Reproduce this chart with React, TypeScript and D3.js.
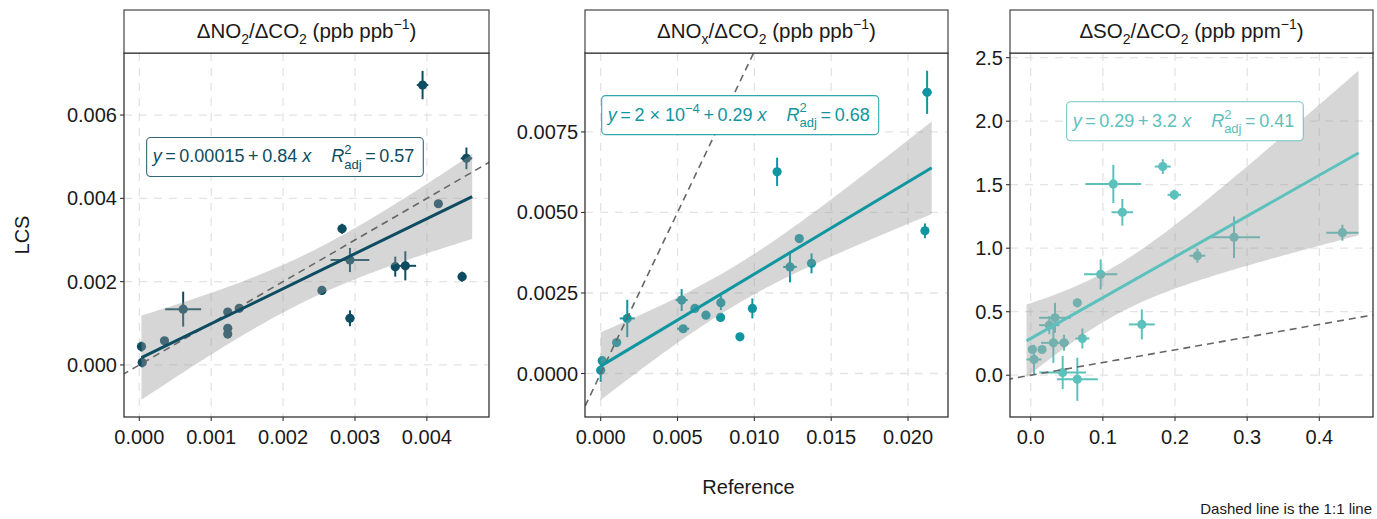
import React, { useEffect, useRef } from "react";
import * as d3 from "d3";

// ---------------- data ----------------
// Panel 1: ΔNO2/ΔCO2
const no2Ref = [0.00394, 0.00455, 0.00416, 0.00282, 0.00293, 0.00356, 0.0037, 0.00449, 0.00254, 0.00293, 0.00061, 0.00123, 0.00139, 0.00123, 0.00123, 0.00035, 0.00003, 0.00004];
const no2RefErr = [0.00008, 0.00008, 0, 0.00006, 0.00027, 0.00006, 0.00015, 0.00006, 0, 0.00006, 0.00025, 0, 0, 0, 0, 0, 0, 0];
const no2Lcs = [0.00672, 0.00496, 0.00387, 0.00327, 0.00252, 0.00236, 0.00238, 0.00212, 0.00179, 0.00112, 0.00134, 0.00127, 0.00136, 0.00088, 0.00074, 0.00058, 0.00044, 0.00006];
const no2LcsErr = [0.00034, 0.00026, 0, 0.00012, 0.00029, 0.00024, 0.00035, 0.00012, 0, 0.00019, 0.00042, 0, 0, 0, 0, 0, 0.00012, 0.00012];

// Panel 2: ΔNOx/ΔCO2
const noxRef = [0.02124, 0.01148, 0.0211, 0.01292, 0.01232, 0.01372, 0.00527, 0.00613, 0.00685, 0.00782, 0.0078, 0.00987, 0.00537, 0.00906, 0.00173, 0.00104, 0.0, 0.0001];
const noxRefErr = [0.0003, 0, 0, 0, 0.00044, 0, 0.00039, 0, 0, 0, 0, 0, 0.00039, 0, 0.00049, 0, 0, 0];
const noxLcs = [0.00873, 0.00626, 0.00443, 0.00419, 0.00331, 0.00342, 0.00228, 0.00202, 0.00181, 0.0022, 0.00174, 0.00202, 0.00139, 0.00114, 0.00171, 0.00096, 0.0001, 0.0004];
const noxLcsErr = [0.00067, 0.00044, 0.00023, 0, 0.00048, 0.00031, 0.00034, 0, 0, 0.00023, 0, 0.00031, 0.0001, 0, 0.00058, 0, 0.00036, 0];

// Panel 3: ΔSO2/ΔCO2
const so2Ref = [0.183, 0.1145, 0.199, 0.127, 0.432, 0.2818, 0.231, 0.097, 0.0646, 0.154, 0.0337, 0.0258, 0.0314, 0.0462, 0.0716, 0.0023, 0.0157, 0.0046, 0.0443, 0.0646];
const so2RefErr = [0.011, 0.0386, 0.0093, 0.015, 0.0224, 0.036, 0.011, 0.023, 0, 0.018, 0.022, 0.014, 0.017, 0.007, 0.0097, 0, 0, 0.0104, 0.0323, 0.0284];
const so2Lcs = [1.643, 1.506, 1.42, 1.283, 1.122, 1.086, 0.941, 0.794, 0.57, 0.4, 0.452, 0.394, 0.255, 0.255, 0.289, 0.2025, 0.2025, 0.124, 0.021, -0.032];
const so2LcsErr = [0.058, 0.15, 0.039, 0.105, 0.063, 0.164, 0.055, 0.118, 0, 0.118, 0.118, 0.071, 0.158, 0.063, 0.079, 0, 0, 0.116, 0.13, 0.17];

// axis ticks and tick labels
const no2XTicks = [0, 0.001, 0.002, 0.003, 0.004];
const no2XLabels = ["0.000", "0.001", "0.002", "0.003", "0.004"];
const no2YTicks = [0, 0.002, 0.004, 0.006];
const no2YLabels = ["0.000", "0.002", "0.004", "0.006"];
const noxXTicks = [0, 0.005, 0.01, 0.015, 0.02];
const noxXLabels = ["0.000", "0.005", "0.010", "0.015", "0.020"];
const noxYTicks = [0, 0.0025, 0.005, 0.0075];
const noxYLabels = ["0.0000", "0.0025", "0.0050", "0.0075"];
const so2XTicks = [0, 0.1, 0.2, 0.3, 0.4];
const so2XLabels = ["0.0", "0.1", "0.2", "0.3", "0.4"];
const so2YTicks = [0, 0.5, 1, 1.5, 2, 2.5];
const so2YLabels = ["0.0", "0.5", "1.0", "1.5", "2.0", "2.5"];

// axis limits
const no2XDomain = [-0.000213, 0.004864];
const no2YDomain = [-0.00125, 0.00749];
const noxXDomain = [-0.00102, 0.0226];
const noxYDomain = [-0.00135, 0.00995];
const so2XDomain = [-0.0287, 0.4744];
const so2YDomain = [-0.329, 2.537];

// fit statistics shown in the labels
const no2Eq = { intercept: "0.00015", slope: "0.84", r2: "0.57" };
const noxEq = { intercept: "2 × 10", interceptExp: "−4", slope: "0.29", r2: "0.68" };
const so2Eq = { intercept: "0.29", slope: "3.2", r2: "0.41" };

const seriesColors = ["#0d4c61", "#0f96a0", "#5cc1bc"];

// ---------------- layout ----------------
const W = 1377;
const H = 519;
const FONT = "'Liberation Sans', Arial, Helvetica, sans-serif";
const plotTop = 53;
const plotBottom = 417;
const stripTop = 10;
const panelX = [
  [124, 489],
  [585, 948],
  [1010, 1373],
];
const labelPos = [
  [0.062, 0.232],
  [0.046, 0.117],
  [0.156, 0.134],
];

function tCrit(df: number) {
  const z = 1.959964;
  return (
    z +
    (z ** 3 + z) / (4 * df) +
    (5 * z ** 5 + 16 * z ** 3 + 3 * z) / (96 * df * df) +
    (3 * z ** 7 + 19 * z ** 5 + 17 * z ** 3 - 15 * z) / (384 * df ** 3)
  );
}

function fitLm(xs: number[], ys: number[]) {
  const n = xs.length;
  const xbar = d3.mean(xs)!;
  const ybar = d3.mean(ys)!;
  let sxx = 0,
    sxy = 0;
  xs.forEach((x, i) => {
    sxx += (x - xbar) ** 2;
    sxy += (x - xbar) * (ys[i] - ybar);
  });
  const b = sxy / sxx;
  const a = ybar - b * xbar;
  let sse = 0;
  xs.forEach((x, i) => {
    sse += (ys[i] - (a + b * x)) ** 2;
  });
  const s = Math.sqrt(sse / (n - 2));
  return { n, xbar, sxx, a, b, s, t: tCrit(n - 2) };
}

type Part = { t: string; it?: boolean; sub?: boolean; sup?: boolean; stack?: [string, string]; dx?: number };

const panels = [
  {
    ref: no2Ref, refErr: no2RefErr, lcs: no2Lcs, lcsErr: no2LcsErr,
    xTicks: no2XTicks, xLabels: no2XLabels, yTicks: no2YTicks, yLabels: no2YLabels,
    xDomain: no2XDomain, yDomain: no2YDomain, eq: no2Eq,
    strip: [{ t: "ΔNO" }, { t: "2", sub: true }, { t: "/ΔCO" }, { t: "2", sub: true }, { t: " (ppb ppb" }, { t: "−1", sup: true }, { t: ")" }] as Part[],
  },
  {
    ref: noxRef, refErr: noxRefErr, lcs: noxLcs, lcsErr: noxLcsErr,
    xTicks: noxXTicks, xLabels: noxXLabels, yTicks: noxYTicks, yLabels: noxYLabels,
    xDomain: noxXDomain, yDomain: noxYDomain, eq: noxEq,
    strip: [{ t: "ΔNO" }, { t: "x", sub: true }, { t: "/ΔCO" }, { t: "2", sub: true }, { t: " (ppb ppb" }, { t: "−1", sup: true }, { t: ")" }] as Part[],
  },
  {
    ref: so2Ref, refErr: so2RefErr, lcs: so2Lcs, lcsErr: so2LcsErr,
    xTicks: so2XTicks, xLabels: so2XLabels, yTicks: so2YTicks, yLabels: so2YLabels,
    xDomain: so2XDomain, yDomain: so2YDomain, eq: so2Eq,
    strip: [{ t: "ΔSO" }, { t: "2", sub: true }, { t: "/ΔCO" }, { t: "2", sub: true }, { t: " (ppb ppm" }, { t: "−1", sup: true }, { t: ")" }] as Part[],
  },
];

function addRich(text: d3.Selection<SVGTextElement, unknown, null, undefined>, parts: Part[], fs: number) {
  const small = Math.round(fs * 0.7);
  let cur = 0; // current dy offset
  parts.forEach((p) => {
    if (p.stack) {
      text.append("tspan").attr("dy", -0.45 * fs - cur).attr("font-size", small).text(p.stack[0]);
      const w = small * 0.556 * p.stack[0].length;
      text.append("tspan").attr("dx", -w).attr("dy", 0.8 * fs).attr("font-size", small).text(p.stack[1]);
      cur = 0.35 * fs;
      return;
    }
    let target = 0;
    if (p.sub) target = 0.28 * fs;
    if (p.sup) target = -0.42 * fs;
    const ts = text.append("tspan").attr("dy", target - cur).text(p.t);
    if (p.dx) ts.attr("dx", p.dx);
    if (p.sub || p.sup) ts.attr("font-size", small);
    if (p.it) ts.attr("font-style", "italic");
    cur = target;
  });
}

export default function App() {
  const ref = useRef<SVGSVGElement>(null);

  useEffect(() => {
    const svg = d3.select(ref.current!);
    svg.selectAll("*").remove();
    svg.attr("font-family", FONT);

    panels.forEach((p, pi) => {
      const color = seriesColors[pi];
      const [x0, x1] = panelX[pi];
      const x = d3.scaleLinear().domain(p.xDomain).range([x0, x1]);
      const y = d3.scaleLinear().domain(p.yDomain).range([plotBottom, plotTop]);
      const g = svg.append("g");

      const clipId = `clip${pi}`;
      svg
        .append("defs")
        .append("clipPath")
        .attr("id", clipId)
        .append("rect")
        .attr("x", x0)
        .attr("y", plotTop)
        .attr("width", x1 - x0)
        .attr("height", plotBottom - plotTop);

      g.append("rect").attr("x", x0).attr("y", plotTop).attr("width", x1 - x0).attr("height", plotBottom - plotTop).attr("fill", "#fff");

      // grid
      const grid = g.append("g").attr("stroke", "#e3e3e3").attr("stroke-width", 1.3).attr("stroke-dasharray", "8,7");
      p.xTicks.forEach((t) => grid.append("line").attr("x1", x(t)).attr("x2", x(t)).attr("y1", plotTop).attr("y2", plotBottom));
      p.yTicks.forEach((t) => grid.append("line").attr("y1", y(t)).attr("y2", y(t)).attr("x1", x0).attr("x2", x1));

      const body = g.append("g").attr("clip-path", `url(#${clipId})`);

      // error bars
      const eb = body.append("g").attr("stroke", color).attr("stroke-width", 2);
      p.ref.forEach((rx, i) => {
        const ly = p.lcs[i];
        if (p.lcsErr[i] > 0)
          eb.append("line").attr("x1", x(rx)).attr("x2", x(rx)).attr("y1", y(ly - p.lcsErr[i])).attr("y2", y(ly + p.lcsErr[i]));
        if (p.refErr[i] > 0)
          eb.append("line").attr("y1", y(ly)).attr("y2", y(ly)).attr("x1", x(rx - p.refErr[i])).attr("x2", x(rx + p.refErr[i]));
      });
      // points
      body
        .append("g")
        .selectAll("circle")
        .data(p.ref)
        .join("circle")
        .attr("cx", (d) => x(d))
        .attr("cy", (_d, i) => y(p.lcs[i]))
        .attr("r", 4.6)
        .attr("fill", color);

      // regression fit + 95% CI band
      const fit = fitLm(p.ref, p.lcs);
      const fx0 = d3.min(p.ref.map((v, i) => v - p.refErr[i]))!;
      const fx1 = d3.max(p.ref.map((v, i) => v + p.refErr[i]))!;
      const xs = d3.range(81).map((k) => fx0 + ((fx1 - fx0) * k) / 80);
      const se = (xv: number) => fit.s * Math.sqrt(1 / fit.n + (xv - fit.xbar) ** 2 / fit.sxx);
      const area = d3
        .area<number>()
        .x((d) => x(d))
        .y0((d) => y(fit.a + fit.b * d - fit.t * se(d)))
        .y1((d) => y(fit.a + fit.b * d + fit.t * se(d)));
      body.append("path").attr("d", area(xs)!).attr("fill", "#999").attr("fill-opacity", 0.4);

      // 1:1 line
      const lo = Math.min(p.xDomain[0], p.yDomain[0]);
      const hi = Math.max(p.xDomain[1], p.yDomain[1]);
      body
        .append("line")
        .attr("x1", x(lo))
        .attr("y1", y(lo))
        .attr("x2", x(hi))
        .attr("y2", y(hi))
        .attr("stroke", "#666")
        .attr("stroke-width", 1.6)
        .attr("stroke-dasharray", "7,5");

      const line = d3
        .line<number>()
        .x((d) => x(d))
        .y((d) => y(fit.a + fit.b * d));
      body.append("path").attr("d", line([fx0, fx1])!).attr("stroke", color).attr("stroke-width", 3).attr("fill", "none");

      // equation label
      const fs = 18;
      const lx = x0 + labelPos[pi][0] * (x1 - x0);
      const ly = plotTop + labelPos[pi][1] * (plotBottom - plotTop);
      const lg = g.append("g");
      const rect = lg.append("rect");
      const txt = lg
        .append("text")
        .attr("x", lx + 6)
        .attr("y", ly + 25)
        .attr("font-size", fs)
        .attr("fill", color);
      const eq: any = p.eq;
      const parts: Part[] = [{ t: "y", it: true }, { t: "\u2009=\u2009" + eq.intercept }];
      if (eq.interceptExp) parts.push({ t: eq.interceptExp, sup: true });
      parts.push(
        { t: "\u2009+\u2009" + eq.slope + " " },
        { t: "x", it: true },
        { t: "R", it: true, dx: 20 },
        { t: "", stack: ["2", "adj"] },
        { t: "\u2009=\u2009" + eq.r2 }
      );
      addRich(txt, parts, fs);
      const bb = (txt.node() as SVGTextElement).getBBox();
      rect
        .attr("x", lx)
        .attr("y", ly)
        .attr("width", bb.width + 13)
        .attr("height", 39)
        .attr("rx", 4)
        .attr("fill", "#fff")
        .attr("stroke", color)
        .attr("stroke-opacity", 0.85)
        .attr("stroke-width", 1.1);

      // panel border
      g.append("rect")
        .attr("x", x0)
        .attr("y", plotTop)
        .attr("width", x1 - x0)
        .attr("height", plotBottom - plotTop)
        .attr("fill", "none")
        .attr("stroke", "#333")
        .attr("stroke-width", 1.3);

      // strip
      g.append("rect")
        .attr("x", x0)
        .attr("y", stripTop)
        .attr("width", x1 - x0)
        .attr("height", plotTop - stripTop)
        .attr("fill", "#fff")
        .attr("stroke", "#333")
        .attr("stroke-width", 1.1);
      const st = g
        .append("text")
        .attr("x", (x0 + x1) / 2)
        .attr("y", 38)
        .attr("text-anchor", "middle")
        .attr("font-size", 20.5)
        .attr("fill", "#1a1a1a");
      addRich(st, p.strip, 20.5);

      // axes
      const ax = g.append("g").attr("stroke", "#333").attr("stroke-width", 1.1);
      p.xTicks.forEach((t) => ax.append("line").attr("x1", x(t)).attr("x2", x(t)).attr("y1", plotBottom).attr("y2", plotBottom + 4));
      p.yTicks.forEach((t) => ax.append("line").attr("y1", y(t)).attr("y2", y(t)).attr("x1", x0 - 4).attr("x2", x0));
      p.xTicks.forEach((t, i) =>
        g
          .append("text")
          .attr("x", x(t))
          .attr("y", 444)
          .attr("text-anchor", "middle")
          .attr("font-size", 20)
          .attr("fill", "#1a1a1a")
          .text(p.xLabels[i])
      );
      p.yTicks.forEach((t, i) =>
        g
          .append("text")
          .attr("x", x0 - 7)
          .attr("y", y(t) + 7)
          .attr("text-anchor", "end")
          .attr("font-size", 20)
          .attr("fill", "#1a1a1a")
          .text(p.yLabels[i])
      );
    });

    svg
      .append("text")
      .attr("x", (panelX[0][0] + panelX[2][1]) / 2)
      .attr("y", 494)
      .attr("text-anchor", "middle")
      .attr("font-size", 20)
      .attr("fill", "#1a1a1a")
      .text("Reference");
    svg
      .append("text")
      .attr("transform", `translate(29,${(plotTop + plotBottom) / 2}) rotate(-90)`)
      .attr("text-anchor", "middle")
      .attr("font-size", 20)
      .attr("fill", "#1a1a1a")
      .text("LCS");
    svg
      .append("text")
      .attr("x", 1372)
      .attr("y", 514)
      .attr("text-anchor", "end")
      .attr("font-size", 15)
      .attr("fill", "#1a1a1a")
      .text("Dashed line is the 1:1 line");
  }, []);

  return (
    <svg
      ref={ref}
      width={W}
      height={H}
      style={{ position: "absolute", left: 0, top: 0, background: "#fff" }}
    />
  );
}
